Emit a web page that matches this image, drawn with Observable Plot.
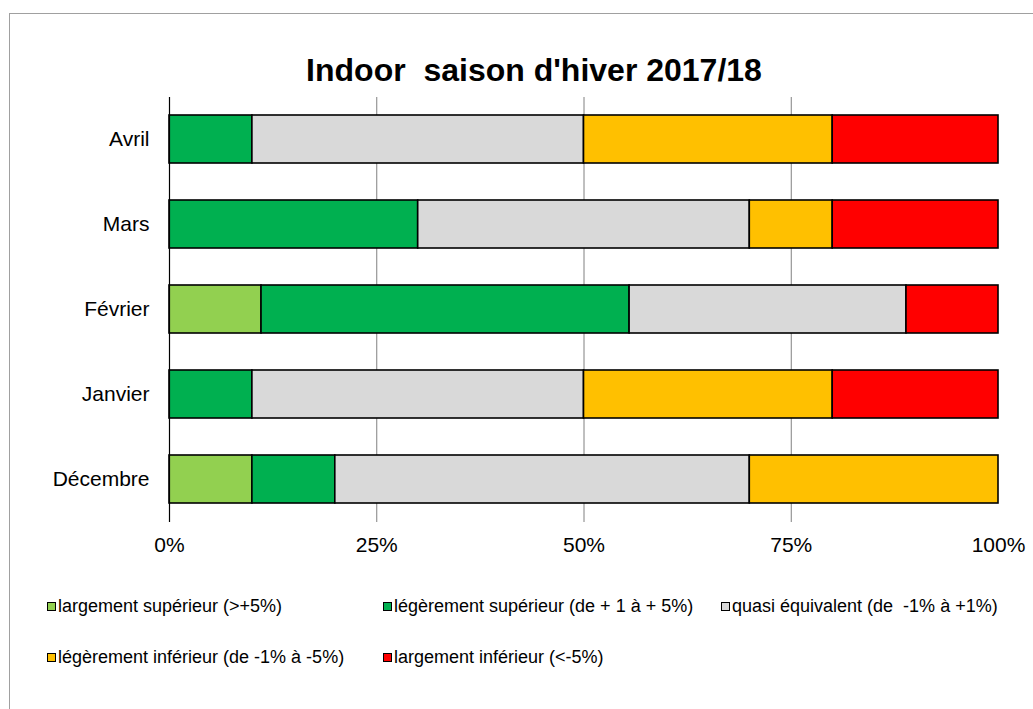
<!DOCTYPE html>
<html>
<head>
<meta charset="utf-8">
<script src="https://cdn.jsdelivr.net/npm/d3@7"></script>
<script src="https://cdn.jsdelivr.net/npm/@observablehq/plot@0.6"></script>
<style>
  html, body { margin: 0; padding: 0; background: #fff; }
  body { font-family: "Liberation Sans", Arial, sans-serif; color: #000; }
  #wrap { position: relative; width: 1033px; height: 709px; overflow: hidden; }
  #frame { position: absolute; left: 9px; top: 13px; width: 1040px; height: 720px;
           border-top: 1px solid #a0a0a0; border-left: 1px solid #a0a0a0; box-sizing: border-box; }
  #title { position: absolute; left: 0; width: 1068px; top: 52px; text-align: center;
           font-weight: bold; font-size: 32px; line-height: 36px; white-space: pre; }
  #chart { position: absolute; left: 0; top: 0; }
  .leg { position: absolute; font-size: 18px; line-height: 20px; white-space: pre; display: flex; align-items: center; }
  .sw { display: inline-block; width: 7px; height: 7px; border: 1.5px solid #000; margin-right: 2px; }
</style>
</head>
<body>
<div id="wrap">
  <div id="frame"></div>
  <div id="chart"></div>
  <div id="title">Indoor  saison d'hiver 2017/18</div>
  <div id="legend"></div>
</div>
<script>
const categories = ["Avril", "Mars", "Février", "Janvier", "Décembre"];
const seriesNames = [
  "largement supérieur (>+5%)",
  "légèrement supérieur (de + 1 à + 5%)",
  "quasi équivalent (de  -1% à +1%)",
  "légèrement inférieur (de -1% à -5%)",
  "largement inférieur (<-5%)"
];
const seriesColors = ["#92d050", "#00b050", "#d9d9d9", "#ffc000", "#ff0000"];
// values in percent, one per category (same order as categories)
const largementSuperieur = [0, 0, 11.1, 0, 10];
const legerementSuperieur = [10, 30, 44.4, 10, 10];
const quasiEquivalent = [40, 40, 33.4, 40, 50];
const legerementInferieur = [30, 10, 0, 30, 30];
const largementInferieur = [20, 20, 11.1, 20, 0];
const xTicks = [0, 25, 50, 75, 100];
const gridTicks = [25, 50, 75];

const seriesValues = [largementSuperieur, legerementSuperieur, quasiEquivalent, legerementInferieur, largementInferieur];
const data = [];
seriesNames.forEach((s, si) => {
  categories.forEach((c, ci) => {
    const v = seriesValues[si][ci];
    if (v > 0) data.push({month: c, series: s, value: v});
  });
});

const chart = Plot.plot({
  width: 1033,
  height: 570,
  marginLeft: 169,
  marginRight: 35,
  marginTop: 97,
  marginBottom: 48,
  style: {fontFamily: '"Liberation Sans", Arial, sans-serif', fontSize: "21px", color: "#000", background: "transparent"},
  x: {domain: [0, 100], ticks: xTicks, tickFormat: d => d + "%"},
  y: {domain: categories, paddingInner: 0.43, paddingOuter: 0.215},
  color: {domain: seriesNames, range: seriesColors},
  marks: [
    Plot.ruleX(gridTicks, {stroke: "#808080", strokeWidth: 1}),
    Plot.barX(data, Plot.stackX({x: "value", y: "month", fill: "series", order: seriesNames,
      stroke: "#000", strokeWidth: 1.6})),
    Plot.ruleX([0], {stroke: "#000", strokeWidth: 1.2}),
    Plot.axisX({ticks: xTicks, tickFormat: d => d + "%", tickSize: 0, tickPadding: 15, fontSize: 21, label: null}),
    Plot.axisY({tickSize: 0, tickPadding: 20, fontSize: 21, label: null})
  ]
});
document.getElementById("chart").appendChild(chart);

// legend
const legPos = [
  {x: 47, y: 596}, {x: 383, y: 596}, {x: 721, y: 596},
  {x: 47, y: 647}, {x: 383, y: 647}
];
const legend = document.getElementById("legend");
seriesNames.forEach((s, i) => {
  const d = document.createElement("div");
  d.className = "leg";
  d.style.left = legPos[i].x + "px";
  d.style.top = legPos[i].y + "px";
  const sw = document.createElement("span");
  sw.className = "sw";
  sw.style.background = seriesColors[i];
  d.appendChild(sw);
  const t = document.createElement("span");
  t.textContent = s;
  d.appendChild(t);
  legend.appendChild(d);
});
</script>
</body>
</html>
